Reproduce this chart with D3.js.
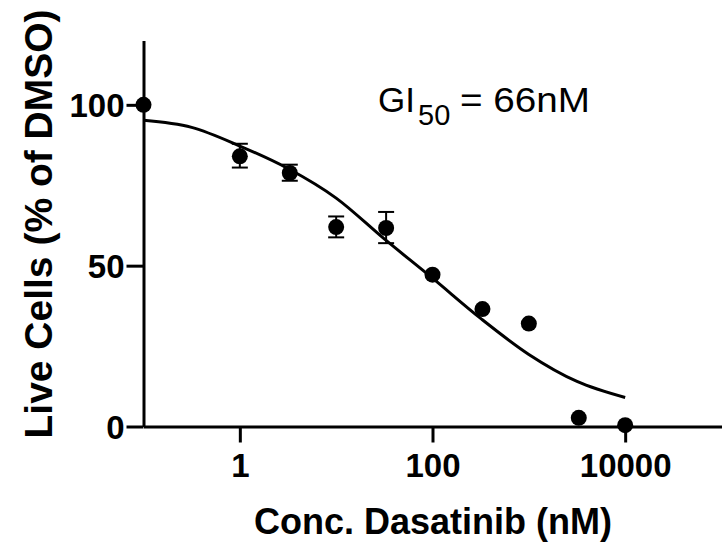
<!DOCTYPE html>
<html>
<head>
<meta charset="utf-8">
<script src="https://cdn.jsdelivr.net/npm/d3@7"></script>
<style>
  body { margin: 0; background: #fff; }
  text { font-family: "Liberation Sans", Arial, sans-serif; }
</style>
</head>
<body>
<svg id="chart"></svg>
<script>
// measured points (conc in nM, % of DMSO)
const conc = [0.1, 1, 3.3, 10, 33, 100, 330, 1000, 3300, 10000]
const live = [100, 84, 78.8, 62, 61.7, 47.2, 36.5, 32, 2.7, 0.4]
const errHi = [null, 87.9, 81.4, 65.3, 66.7, null, null, null, null, null]
const errLo = [null, 80.5, 76.4, 58.8, 57.0, null, null, null, null, null]

// fitted curve
const fitConc = [0.1, 0.316, 1, 3.16, 10, 31.6, 100, 316, 1000, 3162, 10000]
const fitLive = [95.2, 93.0, 87.2, 80.2, 71.0, 58.3, 46.1, 33.6, 22.4, 14.0, 9.0]

const xTicks = [1, 100, 10000]
const yTicks = [0, 50, 100]

const width = 723
const height = 546

const svg = d3.select("#chart")
  .attr("width", width)
  .attr("height", height)

const x = d3.scaleLog().domain([0.1, 100000]).range([143.5, 721.5])
const y = d3.scaleLinear().domain([0, 120]).range([426.5, 40.5])

// axes
const xAxis = svg.append("g")
  .attr("transform", `translate(0,${y(0)})`)
  .call(d3.axisBottom(x).tickValues(xTicks).tickFormat(d3.format("d")).tickSize(16).tickPadding(11).tickSizeOuter(0))
const yAxis = svg.append("g")
  .attr("transform", `translate(${x(0.1)},0)`)
  .call(d3.axisLeft(y).tickValues(yTicks).tickSize(17).tickPadding(2).tickSizeOuter(0))

;[xAxis, yAxis].forEach(a => {
  a.select(".domain").attr("stroke", "#000").attr("stroke-width", 3)
  a.selectAll(".tick line").attr("stroke", "#000").attr("stroke-width", 3)
  a.selectAll(".tick text")
    .attr("fill", "#000")
    .style("font-size", "33px")
    .style("font-weight", "bold")
})
xAxis.selectAll(".tick text").attr("dy", "0.71em")
yAxis.selectAll(".tick text").attr("dy", "0.35em")

// fit line
const line = d3.line()
  .x((d, i) => x(fitConc[i]))
  .y(d => y(d))
  .curve(d3.curveMonotoneX)

svg.append("path")
  .datum(fitLive)
  .attr("d", line)
  .attr("fill", "none")
  .attr("stroke", "#000")
  .attr("stroke-width", 3)

// error bars
const eb = conc.map((c, i) => ({ c, hi: errHi[i], lo: errLo[i] })).filter(d => d.hi != null)
const ebG = svg.append("g").attr("stroke", "#000").attr("stroke-width", 2)
ebG.selectAll("line.v").data(eb).enter().append("line")
  .attr("x1", d => x(d.c)).attr("x2", d => x(d.c))
  .attr("y1", d => y(d.hi)).attr("y2", d => y(d.lo))
ebG.selectAll("line.t").data(eb).enter().append("line")
  .attr("x1", d => x(d.c) - 8).attr("x2", d => x(d.c) + 8)
  .attr("y1", d => y(d.hi)).attr("y2", d => y(d.hi))
ebG.selectAll("line.b").data(eb).enter().append("line")
  .attr("x1", d => x(d.c) - 8).attr("x2", d => x(d.c) + 8)
  .attr("y1", d => y(d.lo)).attr("y2", d => y(d.lo))

// points
svg.append("g").selectAll("circle")
  .data(conc)
  .enter()
  .append("circle")
  .attr("cx", d => x(d))
  .attr("cy", (d, i) => y(live[i]))
  .attr("r", 8)
  .attr("fill", "#000")

// axis titles
svg.append("text")
  .attr("x", 433)
  .attr("y", 534)
  .attr("text-anchor", "middle")
  .style("font-size", "36px")
  .style("font-weight", "bold")
  .text("Conc. Dasatinib (nM)")

svg.append("text")
  .attr("transform", `translate(52,224) rotate(-90)`)
  .attr("text-anchor", "middle")
  .style("font-size", "39px")
  .style("font-weight", "bold")
  .text("Live Cells (% of DMSO)")

// GI50 label
const gi = svg.append("text")
  .attr("y", 112)
  .style("font-size", "35px")
gi.append("tspan").attr("x", 378).text("GI")
gi.append("tspan").attr("x", 418).attr("y", 125).style("font-size", "29px").text("50")
gi.append("tspan").attr("x", 460).attr("y", 112)
  .attr("textLength", 130).attr("lengthAdjust", "spacingAndGlyphs")
  .text("= 66nM")
</script>
</body>
</html>
